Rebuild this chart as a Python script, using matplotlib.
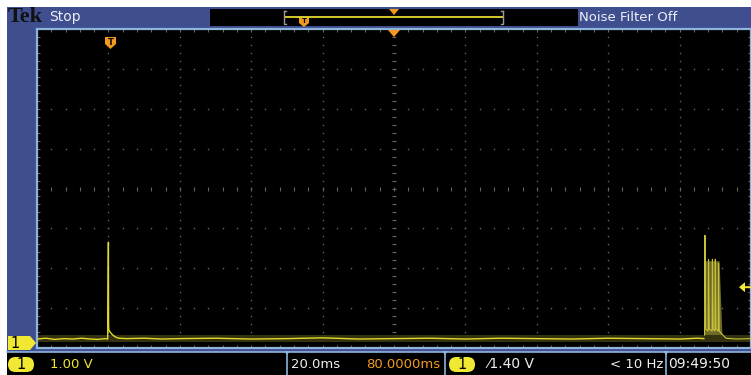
import matplotlib
matplotlib.use("Agg")
import matplotlib.pyplot as plt
from matplotlib.patches import Rectangle, Polygon, FancyBboxPatch

W, H = 751, 375

# scope settings
volts_per_div = 1.00
ms_per_div = 20.0
h_position_ms = 80.0
trigger_level_v = 1.40

# main trace: time in ms, voltage in V
trace_t = [-20.0, -17.5, -15.0, -12.5, -10.0, -7.5, -5.0, -3.0, -1.0, -0.2,
           0.0, 0.05, 0.1, 0.3, 0.6, 1.0, 1.5, 2.2, 3.0, 5.0, 10.0, 15.0, 20.0,
           30.0, 40.0, 50.0, 60.0, 70.0, 80.0, 90.0, 100.0, 110.0, 120.0,
           130.0, 140.0, 150.0, 160.0, 165.0, 166.8]
trace_v = [0.10, 0.12, 0.09, 0.11, 0.10, 0.12, 0.10, 0.09, 0.11, 0.10,
           2.53, 0.50, 0.34, 0.30, 0.26, 0.22, 0.18, 0.14, 0.12, 0.11, 0.12, 0.10, 0.11,
           0.12, 0.10, 0.11, 0.13, 0.10, 0.11, 0.12, 0.10, 0.12, 0.11,
           0.10, 0.12, 0.11, 0.10, 0.12, 0.11]

# burst of pulses near the right edge
burst_t = [167.0, 167.1, 167.3, 168.0, 168.1, 168.3, 169.1, 169.2, 169.4,
           169.9, 170.0, 170.2, 170.8, 170.9, 171.1, 171.9, 173.0, 176.0, 180.0]
burst_v = [0.20, 2.70, 0.35, 0.30, 2.10, 0.35, 0.30, 2.10, 0.35,
           0.30, 2.10, 0.35, 0.30, 2.00, 0.30, 0.22, 0.12, 0.10, 0.11]
burst_fill_t = [166.9, 167.2, 171.2, 172.0]
burst_fill_v = [0.20, 2.05, 2.05, 0.20]

blue = "#3e4e8e"
lightblue = "#8fb4dc"
yellow = "#e2da2e"
badge = "#f0e832"
orange = "#f29a1e"
griddot = "#66665a"
narrow = ["DejaVu Sans Condensed", "Liberation Sans Narrow", "DejaVu Sans"]
fs = 9.5

fig = plt.figure(figsize=(W / 100, H / 100), dpi=100)
fig.patch.set_facecolor("white")


def px(x, y):
    # pixel coords measured from top-left -> display coords
    return (x, H - y)


def prect(x0, y0, x1, y1, **kw):
    r = Rectangle(px(x0, y1), x1 - x0, y1 - y0, transform=None, **kw)
    fig.add_artist(r)
    return r


def ppoly(pts, **kw):
    p = Polygon([px(x, y) for x, y in pts], closed=True, transform=None, **kw)
    fig.add_artist(p)
    return p


def ptext(x, y, s, **kw):
    fig.text(x / W, 1 - y / H, s, **kw)


# blue frame
prect(7, 7, 751, 375, facecolor=blue, edgecolor="none", zorder=0)

# screen
x0, x1, y0, y1 = 37, 751, 29, 348
ax = fig.add_axes([x0 / W, 1 - y1 / H, (x1 - x0) / W, (y1 - y0) / H])
ax.set_facecolor("black")
tmin = h_position_ms - 5 * ms_per_div
tmax = h_position_ms + 5 * ms_per_div
vmin = -0.125 * volts_per_div
vmax = vmin + 8 * volts_per_div
ax.set_xlim(tmin, tmax)
ax.set_ylim(vmin, vmax)
ax.set_xticks([])
ax.set_yticks([])
for s in ax.spines.values():
    s.set_color(lightblue)
    s.set_linewidth(1.6)

# graticule
sub_t = ms_per_div / 5
sub_v = volts_per_div / 5
vt = [tmin + k * ms_per_div for k in range(1, 10)]
hv = [vmin + k * volts_per_div for k in range(1, 8)]
dots_v_all = [vmin + k * sub_v for k in range(41)]
dots_t_all = [tmin + k * sub_t for k in range(51)]
tc = h_position_ms
vc = vmin + 4 * volts_per_div
for t in vt:
    if t == tc:
        continue
    ax.plot([t] * len(dots_v_all), dots_v_all, ls="none", marker="s",
            ms=1.0, mew=0, color=griddot, zorder=1)
for v in hv:
    if abs(v - vc) < 1e-9:
        continue
    ax.plot(dots_t_all, [v] * len(dots_t_all), ls="none", marker="s",
            ms=1.0, mew=0, color=griddot, zorder=1)
# center crosshair ticks
ax.plot([tc] * len(dots_v_all), dots_v_all, ls="none", marker="_", ms=3.0,
        mew=0.8, color=griddot, zorder=1)
ax.plot(dots_t_all, [vc] * len(dots_t_all), ls="none", marker="|", ms=3.0,
        mew=0.8, color=griddot, zorder=1)
# edge ticks
for t_edge in (tmin, tmax):
    ax.plot([t_edge] * len(dots_v_all), dots_v_all, ls="none", marker="_",
            ms=4.0, mew=0.8, color=griddot, zorder=1)
for v_edge in (vmin, vmax):
    ax.plot(dots_t_all, [v_edge] * len(dots_t_all), ls="none", marker="|",
            ms=4.0, mew=0.8, color=griddot, zorder=1)

# persistence glow around the baseline
ax.fill_between([tmin, tmax], [0.03, 0.03], [0.20, 0.20], color="#34320f",
                lw=0, zorder=2)
ax.fill(burst_fill_t, burst_fill_v, color="#6e6a28", lw=0, zorder=2)
ax.plot(trace_t, trace_v, color=yellow, lw=1.0, zorder=3)
ax.plot(burst_t, burst_v, color="#c8c23a", lw=0.8, zorder=3)

# ---------- top bar ----------
ptext(8, 17, "Tek", family="Liberation Serif", weight="bold", fontsize=16,
      color="#111111", va="center", ha="left")
ptext(49, 17.5, "Stop", family=narrow, fontsize=fs + 0.5, color="#e8ecf4",
      va="center", ha="left")
prect(210, 9, 578, 26, facecolor="black", edgecolor="none")
# record view
fig.add_artist(plt.Line2D([285 / W, 503 / W], [1 - 17 / H, 1 - 17 / H],
                          color=yellow, lw=1.3))
for bx, d in ((284, 1), (503, -1)):
    fig.add_artist(plt.Line2D([bx / W, bx / W, (bx + 2 * d) / W],
                              [1 - 11 / H, 1 - 24 / H, 1 - 24 / H],
                              color="#9a9a9a", lw=1.0))
    fig.add_artist(plt.Line2D([bx / W, (bx + 2 * d) / W],
                              [1 - 11 / H, 1 - 11 / H], color="#9a9a9a", lw=1.0))
ppoly([(389, 9), (399, 9), (394, 15)], facecolor=orange, edgecolor="none")
ppoly([(299, 17), (309, 17), (309, 23), (304, 27), (299, 23)],
      facecolor=orange, edgecolor="none")
ptext(304, 21, "T", fontsize=5, color="black", weight="bold", ha="center", va="center")
ptext(579, 17.5, "Noise Filter Off", family=narrow, fontsize=fs,
      color="#eef0f8", va="center", ha="left")

# ---------- screen markers ----------
# trigger position marker
ppoly([(105, 37), (116, 37), (116, 44), (110.5, 49), (105, 44)],
      facecolor=orange, edgecolor="none", zorder=5)
ptext(110.5, 42.5, "T", fontsize=6, color="black", weight="bold",
      ha="center", va="center", zorder=6)
# horizontal position marker
ppoly([(388, 30), (400, 30), (394, 37)], facecolor=orange, edgecolor="none", zorder=5)
# ground marker
ppoly([(8, 336), (30, 336), (36, 343), (30, 350), (8, 350)],
      facecolor=badge, edgecolor="none", zorder=5)
ptext(15, 343.5, "1", family=narrow, fontsize=10.5, color="black",
      ha="center", va="center", zorder=6)
# trigger level marker
trig_y = y1 - (trigger_level_v - vmin) / (vmax - vmin) * (y1 - y0)
ppoly([(739, trig_y), (745, trig_y - 5), (745, trig_y - 1), (751, trig_y - 1),
       (751, trig_y + 1), (745, trig_y + 1), (745, trig_y + 5)],
      facecolor=badge, edgecolor="none", zorder=5)

# ---------- bottom bar ----------
prect(7, 352, 751, 375, facecolor="black", edgecolor="none")
fig.add_artist(plt.Line2D([7 / W, 1], [1 - 351.5 / H] * 2, color=lightblue, lw=1.2))
for sx in (287, 445, 666):
    fig.add_artist(plt.Line2D([sx / W] * 2, [1 - 352 / H, 0], color=lightblue, lw=1.2))
    ppoly([(sx - 3, 351), (sx + 3, 351), (sx, 355)], facecolor=lightblue,
          edgecolor="none")
for bx in (8, 449):
    fig.add_artist(FancyBboxPatch(px(bx, 372), 26, 15,
                                  boxstyle="round,pad=0,rounding_size=7.5",
                                  transform=None, facecolor=badge,
                                  edgecolor="none"))
    ptext(bx + 13, 364.5, "1", family=narrow, fontsize=10.5, color="black",
          ha="center", va="center")
ptext(50, 364.5, f"{volts_per_div:.2f} V", family=narrow, fontsize=fs,
      color=badge, va="center")
ptext(291, 364.5, f"{ms_per_div:.1f}ms", family=narrow, fontsize=fs,
      color="#f0f0f0", va="center")
ptext(440, 364.5, f"{h_position_ms:.4f}ms", family=narrow, fontsize=fs,
      color=orange, va="center", ha="right")
ptext(488, 364.5, f"\u2044{trigger_level_v:.2f} V", family=narrow, fontsize=fs + 0.5,
      color="#f0f0f0", va="center")
ptext(663, 364.5, "< 10 Hz", family=narrow, fontsize=fs, color="#f0f0f0",
      va="center", ha="right")
ptext(668, 364.5, "09:49:50", family=narrow, fontsize=fs + 0.5, color="#f0f0f0",
      va="center")

fig.savefig("out.png", dpi=100, facecolor=fig.get_facecolor())
